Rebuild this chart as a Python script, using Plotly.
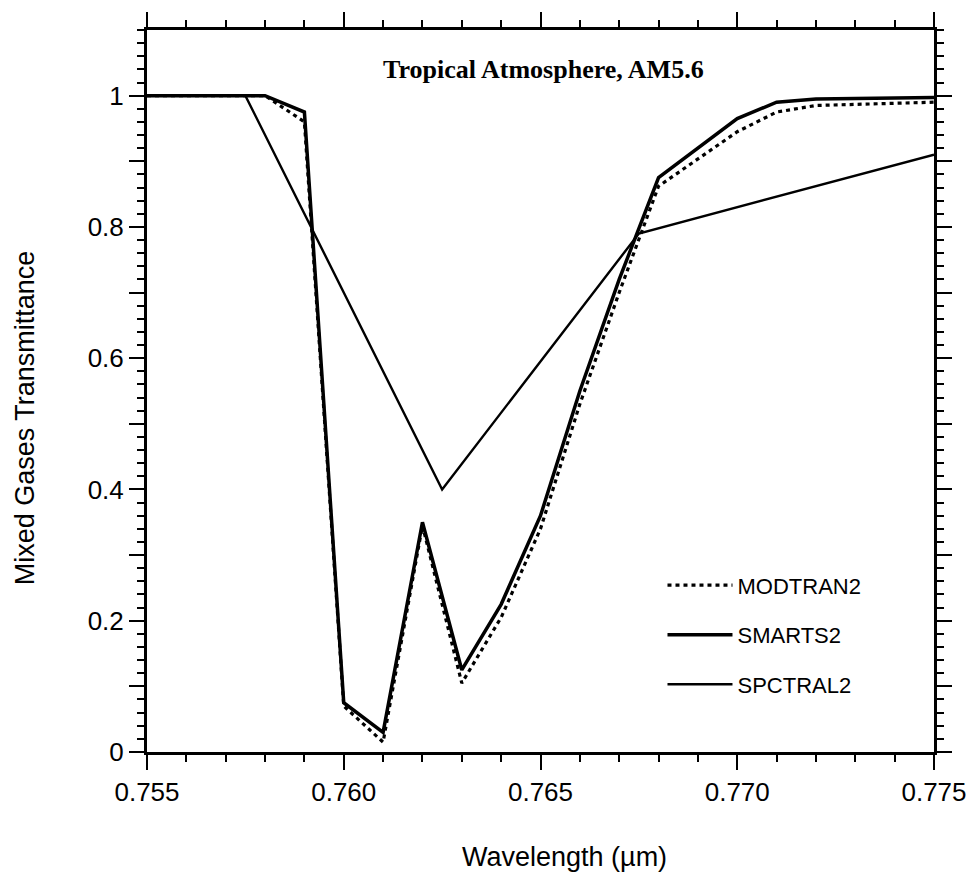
import plotly.graph_objects as go

# Wavelength grid (µm) shared by MODTRAN2 and SMARTS2
wl_fine = [0.755, 0.756, 0.757, 0.758, 0.759, 0.760, 0.761, 0.762, 0.763,
           0.764, 0.765, 0.766, 0.767, 0.768, 0.770, 0.771, 0.772, 0.775]
modtran2 = [1.0, 1.0, 1.0, 1.0, 0.96, 0.07, 0.015, 0.345, 0.105,
            0.205, 0.34, 0.53, 0.70, 0.862, 0.945, 0.975, 0.985, 0.99]
smarts2 = [1.0, 1.0, 1.0, 1.0, 0.975, 0.075, 0.03, 0.35, 0.125,
           0.225, 0.36, 0.55, 0.72, 0.875, 0.965, 0.99, 0.995, 0.997]

# SPCTRAL2 coarse grid
wl_coarse = [0.755, 0.7575, 0.7625, 0.7675, 0.775]
spctral2 = [1.0, 1.0, 0.40, 0.79, 0.91]

x_ticks = [0.755, 0.760, 0.765, 0.770, 0.775]
x_labels = ["0.755", "0.760", "0.765", "0.770", "0.775"]
y_ticks = [0.0, 0.1, 0.2, 0.3, 0.4, 0.5, 0.6, 0.7, 0.8, 0.9, 1.0]
y_labels = ["0", "", "0.2", "", "0.4", "", "0.6", "", "0.8", "", "1"]

title_text = "Tropical Atmosphere, AM5.6"
x_title = "Wavelength (µm)"
y_title = "Mixed Gases Transmittance"

fig = go.Figure()
fig.add_trace(go.Scatter(x=wl_fine, y=modtran2, mode="lines", name="MODTRAN2",
                         legendgroup="a",
                         line=dict(color="black", width=3.2, dash="4px,4px")))
fig.add_trace(go.Scatter(x=wl_fine, y=smarts2, mode="lines", name="SMARTS2",
                         legendgroup="b",
                         line=dict(color="black", width=3.5)))
fig.add_trace(go.Scatter(x=wl_coarse, y=spctral2, mode="lines", name="SPCTRAL2",
                         legendgroup="c",
                         line=dict(color="black", width=2.4)))

tickfont = dict(family="Liberation Sans, Arial, sans-serif", size=26, color="black")

fig.update_xaxes(range=[0.755, 0.775], tickvals=x_ticks, ticktext=x_labels,
                 ticks="outside", ticklen=15, tickwidth=2, tickcolor="black",
                 showline=True, linewidth=3, linecolor="black", mirror="ticks",
                 minor=dict(dtick=0.001, ticklen=7, tickwidth=2, ticks="outside",
                            tickcolor="black"),
                 showgrid=False, zeroline=False, tickfont=tickfont)
fig.update_yaxes(range=[0, 1.1], tickvals=y_ticks, ticktext=y_labels,
                 ticks="outside", ticklen=15, tickwidth=2, tickcolor="black",
                 showline=True, linewidth=3, linecolor="black", mirror="ticks",
                 minor=dict(dtick=0.02, ticklen=7, tickwidth=2, ticks="outside",
                            tickcolor="black"),
                 showgrid=False, zeroline=False, tickfont=tickfont)

fig.update_layout(
    width=979, height=876,
    margin=dict(l=147, r=41, t=22, b=124),
    plot_bgcolor="white", paper_bgcolor="white",
    showlegend=True,
    legend=dict(x=0.655, y=0.26, xanchor="left", yanchor="top",
                bgcolor="rgba(0,0,0,0)", borderwidth=0,
                font=dict(family="Liberation Sans, Arial, sans-serif", size=22, color="black"),
                tracegroupgap=18, itemwidth=65),
    annotations=[
        dict(text="<b>" + title_text + "</b>", xref="paper", yref="paper",
             x=(546 - 147) / 791, y=(752 - 62) / 730, showarrow=False,
             font=dict(family="Liberation Serif, Times New Roman, serif", size=26, color="black"),
             xanchor="center", yanchor="middle"),
        dict(text=x_title, xref="paper", yref="paper",
             x=(567 - 147) / 791, y=(752 - 858) / 730, showarrow=False,
             font=dict(family="Liberation Sans, Arial, sans-serif", size=27, color="black"),
             xanchor="center", yanchor="middle"),
        dict(text=y_title, xref="paper", yref="paper",
             x=(24 - 147) / 791, y=(752 - 414) / 730, showarrow=False, textangle=-90,
             font=dict(family="Liberation Sans, Arial, sans-serif", size=27, color="black"),
             xanchor="center", yanchor="middle"),
    ],
)

fig.write_html("out.html")
